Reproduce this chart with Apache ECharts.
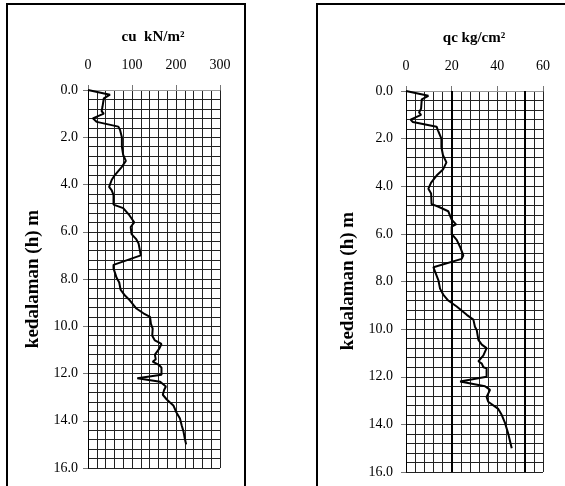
<!DOCTYPE html>
<html>
<head>
<meta charset="utf-8">
<script src="https://cdn.jsdelivr.net/npm/echarts@6/dist/echarts.min.js"></script>
<style>
    html, body { margin: 0; padding: 0; background: #fff; }
    #chart { width: 565px; height: 486px; }
</style>
</head>
<body>
<div id="chart"></div>
<script>
// cu (kN/m2) vs kedalaman (m)
var cuDepth = [0.0, 0.2, 0.35, 0.7, 0.9, 1.0, 1.2, 1.35, 1.55, 1.7, 2.0, 2.4, 2.75, 3.0, 3.25, 3.6, 3.8, 4.1, 4.25, 4.45,
    4.85, 5.0, 5.3, 5.6, 5.8, 6.1, 6.3, 6.5, 6.8, 7.0, 7.4, 7.55, 7.95, 8.15, 8.45, 8.7, 8.9, 9.25, 9.45, 9.6,
    9.9, 10.1, 10.4, 10.6, 10.75, 10.95, 11.2, 11.4, 11.5, 11.65, 11.75, 12.05, 12.2, 12.35, 12.55, 12.7, 12.9, 13.1, 13.35, 13.65,
    13.9, 14.2, 14.45, 14.75, 15.0];
var cuValue = [0, 50, 36, 33, 31, 36, 11, 20, 69, 73, 77, 77, 80, 86, 77, 61, 54, 48, 54, 58,
    58, 80, 94, 105, 97, 99, 109, 115, 118, 120, 58, 58, 65, 71, 74, 84, 95, 110, 126, 141,
    143, 147, 146, 152, 167, 162, 152, 154, 147, 162, 167, 167, 112, 164, 177, 173, 170, 179, 194, 201,
    209, 213, 217, 220, 223];

// qc (kg/cm2) vs kedalaman (m)
var qcDepth = [0.0, 0.2, 0.35, 0.75, 0.9, 1.0, 1.2, 1.3, 1.5, 1.65, 2.0, 2.35, 2.7, 3.0, 3.3, 3.55, 3.85, 4.1, 4.3, 4.75,
    4.85, 5.05, 5.4, 5.6, 5.7, 6.0, 6.25, 6.55, 6.9, 7.05, 7.4, 7.5, 7.75, 7.95, 8.3, 8.55, 8.8, 9.05, 9.4, 9.6,
    9.9, 10.05, 10.45, 10.65, 10.8, 11.1, 11.35, 11.45, 11.6, 11.65, 12.0, 12.2, 12.4, 12.55, 12.85, 13.05, 13.35, 13.6, 13.95, 14.4,
    15.0];
var qcValue = [0, 9.8, 6.9, 6.6, 5.7, 6.6, 2, 3, 13.4, 14, 15.5, 15.5, 16.2, 17.7, 16.2, 13.4, 11, 9.8, 11, 11.2,
    14, 18.5, 20, 21.9, 20, 20, 22.2, 23.7, 25.1, 24.4, 12, 12.4, 13.4, 14.2, 14.9, 16.3, 18.5, 22.2, 26.6, 29.5,
    30.2, 31, 31.7, 33.2, 35.3, 33.9, 31.7, 33.2, 33.9, 35.3, 35.3, 23.7, 34.6, 36.8, 35.3, 36, 40.4, 41.9, 43.4, 44.8,
    46.3];
var qcDarkLines = [20, 52];

var cuTicks = [0, 300, 20, 100];
var qcTicks = [0, 60, 4, 20];
var depthTicks = [0, 16, 0.4, 2];

var titles = ['cu  kN/m\u00b2', 'qc kg/cm\u00b2'];
var depthName = 'kedalaman (h) m';

var serif = "'Liberation Serif', 'Times New Roman', serif";

function pairs(xs, ys) {
    return ys.map(function (d, i) { return [xs[i], d]; });
}

function gridX(gi, t) {
    return [{
        gridIndex: gi, type: 'value', position: 'top', min: t[0], max: t[1], interval: t[2],
        axisLabel: { show: false }, axisTick: { show: false },
        axisLine: { show: true, lineStyle: { color: '#999', width: 1 } },
        splitLine: { show: true, lineStyle: { color: '#222', width: 1 } }
    }, {
        gridIndex: gi, type: 'value', position: 'top', min: t[0], max: t[1], interval: t[3],
        axisLabel: { show: true, margin: 18, color: '#000', fontFamily: serif, fontSize: 14 },
        axisTick: { show: true, length: 5, lineStyle: { color: '#777' } },
        axisLine: { show: false }, splitLine: { show: false }
    }];
}

function gridY(gi, t, margin) {
    return [{
        gridIndex: gi, type: 'value', position: 'left', inverse: true, min: t[0], max: t[1], interval: t[2],
        axisLabel: { show: false }, axisTick: { show: false },
        axisLine: { show: true, lineStyle: { color: '#000', width: 1 } },
        splitLine: { show: true, lineStyle: { color: '#222', width: 1 } }
    }, {
        gridIndex: gi, type: 'value', position: 'left', inverse: true, min: t[0], max: t[1], interval: t[3],
        axisLabel: {
            show: true, margin: margin, color: '#000', fontFamily: serif, fontSize: 14,
            formatter: function (v) { return v.toFixed(1); }
        },
        axisTick: { show: true, length: 5, lineStyle: { color: '#777' } },
        axisLine: { show: false }, splitLine: { show: false }
    }];
}

var option = {
    backgroundColor: '#fff',
    animation: false,
    grid: [
        { left: 88, top: 90, width: 132, height: 378 },
        { left: 406, top: 91, width: 137, height: 381 }
    ],
    xAxis: gridX(0, cuTicks).concat(gridX(1, qcTicks)),
    yAxis: gridY(0, depthTicks, 10).concat(gridY(1, depthTicks, 13)),
    series: [{
        type: 'line', xAxisIndex: 0, yAxisIndex: 0,
        data: pairs(cuValue, cuDepth),
        showSymbol: false, symbol: 'none',
        lineStyle: { color: '#000', width: 2 }, z: 5
    }, {
        type: 'line', xAxisIndex: 2, yAxisIndex: 2,
        data: pairs(qcValue, qcDepth),
        showSymbol: false, symbol: 'none',
        lineStyle: { color: '#000', width: 2 }, z: 5,
        markLine: {
            silent: true, symbol: 'none', label: { show: false },
            lineStyle: { color: '#000', width: 2, type: 'solid' },
            data: qcDarkLines.map(function (v) { return { xAxis: v }; })
        }
    }],
    graphic: [
        { type: 'rect', shape: { x: 7, y: 4, width: 238, height: 520 }, style: { fill: 'none', stroke: '#000', lineWidth: 2 }, z: -1 },
        { type: 'rect', shape: { x: 317, y: 4, width: 300, height: 520 }, style: { fill: 'none', stroke: '#000', lineWidth: 2 }, z: -1 },
        { type: 'text', x: 153, y: 37, style: { text: titles[0], fontFamily: serif, fontWeight: 'bold', fontSize: 15, fill: '#000', textAlign: 'center', textVerticalAlign: 'middle' } },
        { type: 'text', x: 474, y: 38, style: { text: titles[1], fontFamily: serif, fontWeight: 'bold', fontSize: 15, fill: '#000', textAlign: 'center', textVerticalAlign: 'middle' } },
        { type: 'text', x: 33, y: 279, rotation: Math.PI / 2, style: { text: depthName, fontFamily: serif, fontWeight: 'bold', fontSize: 19, fill: '#000', textAlign: 'center', textVerticalAlign: 'middle' } },
        { type: 'text', x: 348, y: 281, rotation: Math.PI / 2, style: { text: depthName, fontFamily: serif, fontWeight: 'bold', fontSize: 19, fill: '#000', textAlign: 'center', textVerticalAlign: 'middle' } }
    ]
};

var chart = echarts.init(document.getElementById('chart'));
chart.setOption(option);
</script>
</body>
</html>
